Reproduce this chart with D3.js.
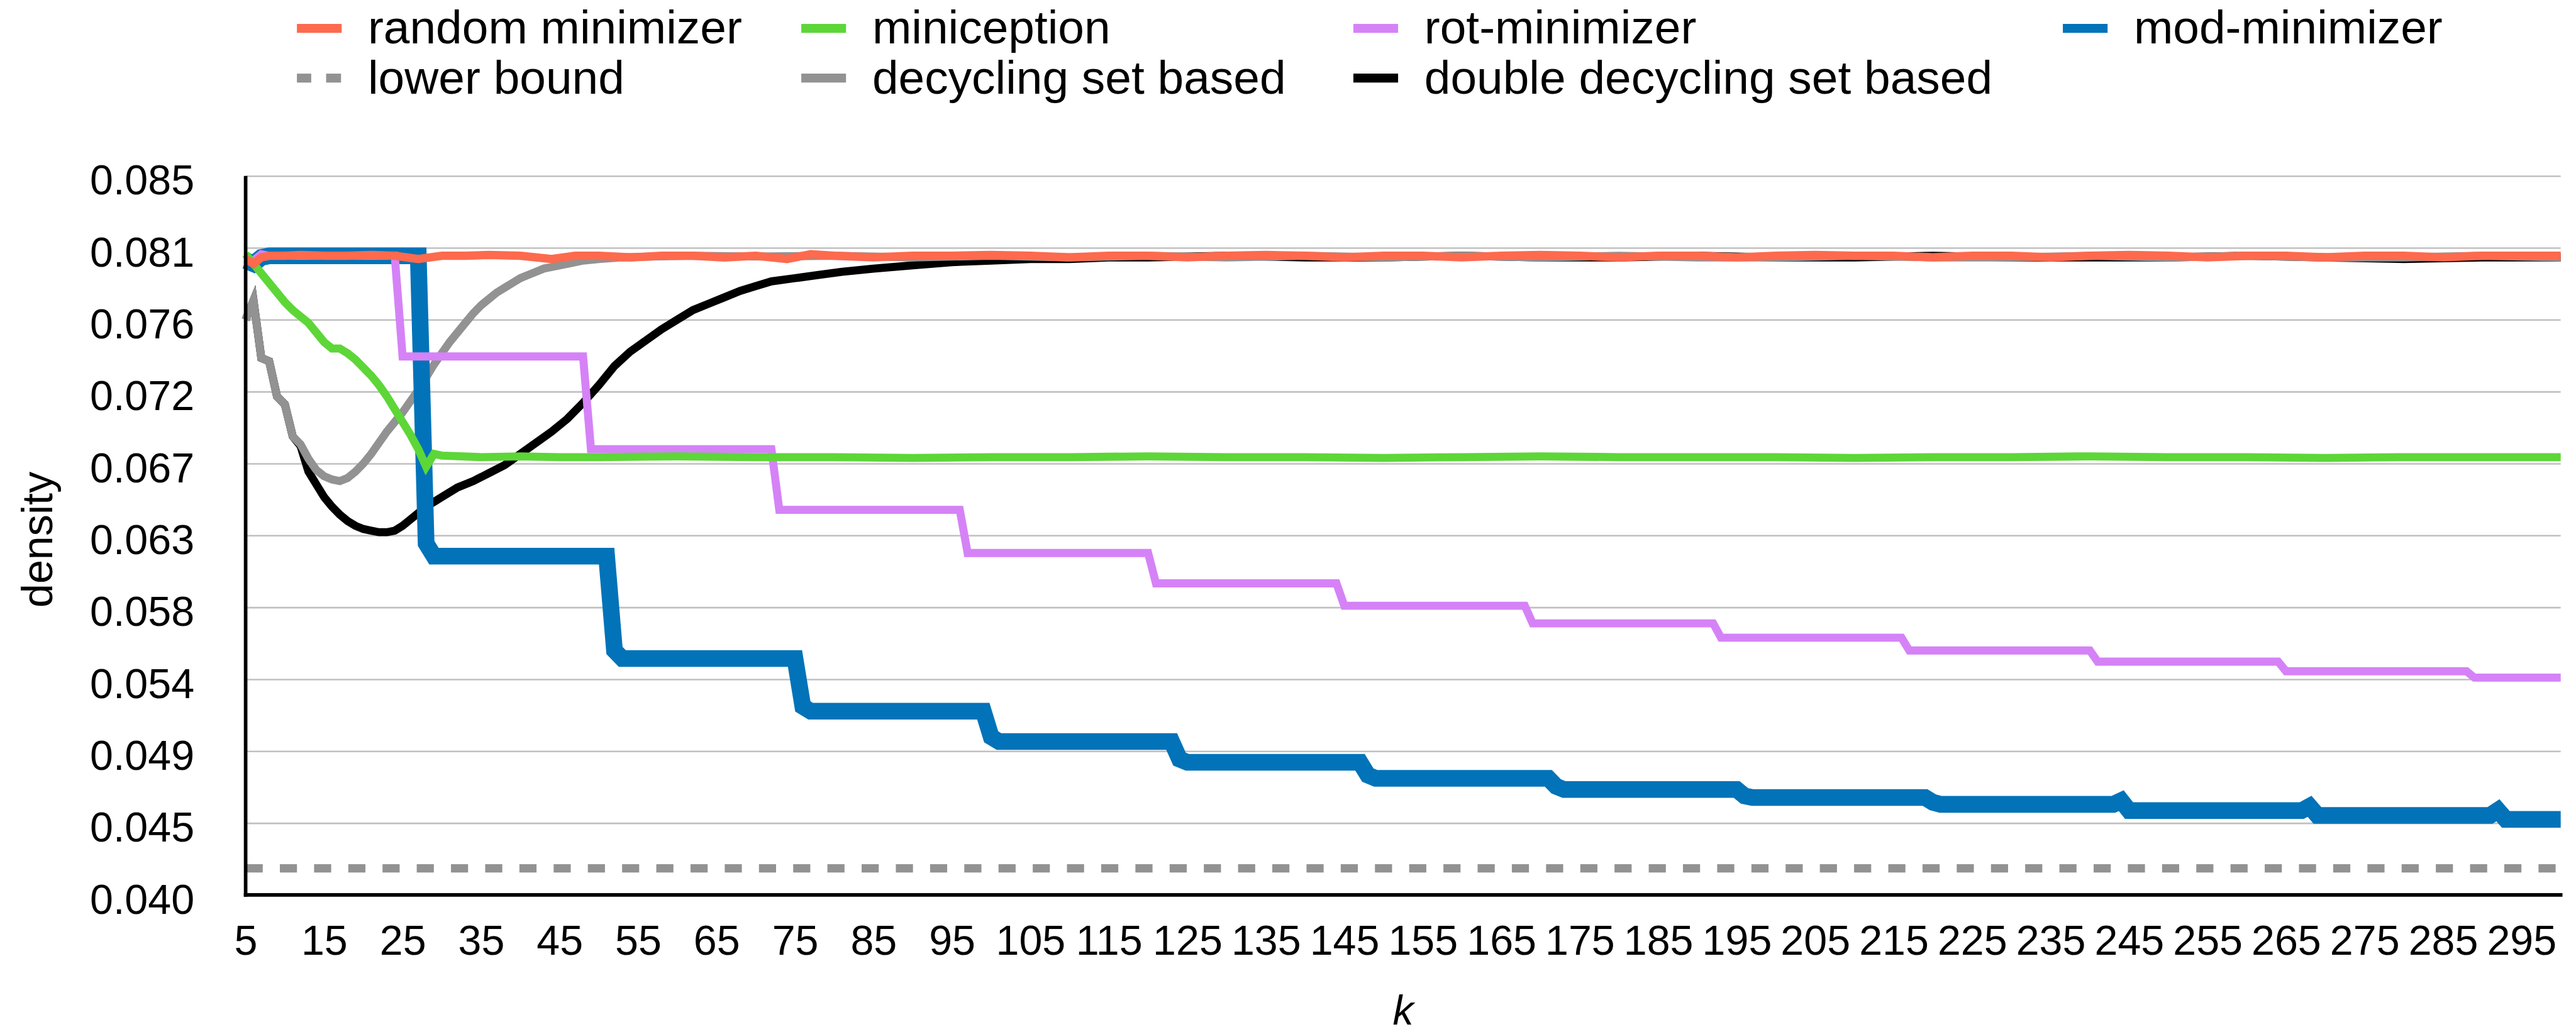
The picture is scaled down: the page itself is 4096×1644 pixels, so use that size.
<!DOCTYPE html>
<html>
<head>
<meta charset="utf-8">
<script src="https://cdn.jsdelivr.net/npm/d3@7"></script>
<style>
html, body { margin: 0; padding: 0; background: #ffffff; }
svg { display: block; }
</style>
</head>
<body>
<svg id="chart" width="4096" height="1644"></svg>
<script>
// ---------------- DATA ----------------
const seriesNames = ["random minimizer", "miniception", "rot-minimizer", "mod-minimizer",
                     "lower bound", "decycling set based", "double decycling set based"];

const xTickValues = [5,15,25,35,45,55,65,75,85,95,105,115,125,135,145,155,165,175,185,195,205,215,225,235,245,255,265,275,285,295];
const yTickValues = [0.040,0.0445,0.049,0.0535,0.058,0.0625,0.067,0.0715,0.076,0.0805,0.085];
const yTickLabels = ["0.040","0.045","0.049","0.054","0.058","0.063","0.067","0.072","0.076","0.081","0.085"];

// [k, density]
const randomMinimizer = [[5,0.0798],[6,0.0795],[7,0.0799],[8,0.0800],[10,0.0800],[12,0.08005],[15,0.0800],[18,0.0800],[21,0.08005],[24,0.0800],[27,0.0798],[30,0.0800],[33,0.0800],[36,0.08005],[40,0.0800],[44,0.0798],[47,0.0800],[50,0.0800],[54,0.0799],[58,0.0800],[62,0.0800],[66,0.0799],[70,0.0800],[74,0.0798],[77,0.0801],[80,0.0800],[85,0.0799],[90,0.0800],[95,0.0800],[100,0.08005],[105,0.0800],[110,0.0799],[115,0.0800],[120,0.0800],[125,0.0799],[130,0.0800],[135,0.08005],[140,0.0800],[145,0.0799],[150,0.0800],[155,0.0800],[160,0.0799],[165,0.0800],[170,0.08005],[175,0.0800],[180,0.0799],[185,0.0800],[190,0.0800],[195,0.0799],[200,0.0800],[205,0.08005],[210,0.0800],[215,0.0800],[220,0.0799],[225,0.0800],[230,0.0800],[235,0.0799],[240,0.0800],[245,0.08005],[250,0.0800],[255,0.0799],[260,0.0800],[265,0.0800],[270,0.0799],[275,0.0800],[280,0.0800],[285,0.0799],[290,0.0800],[295,0.0800],[300,0.0800]];

const miniception = [[5,0.0801],[6,0.0795],[7,0.0789],[8,0.0783],[9,0.0777],[10,0.0771],[11,0.0766],[12,0.0762],[13,0.0758],[14,0.0752],[15,0.0746],[16,0.0742],[17,0.0742],[18,0.0739],[19,0.0735],[20,0.0730],[21,0.0725],[22,0.0719],[23,0.0712],[24,0.0704],[25,0.0696],[26,0.0688],[27,0.0679],[28,0.0668],[29,0.0676],[30,0.0675],[35,0.0674],[40,0.06745],[45,0.0674],[50,0.0674],[60,0.06745],[70,0.0674],[80,0.0674],[90,0.06735],[100,0.0674],[110,0.0674],[120,0.06745],[130,0.0674],[140,0.0674],[150,0.06735],[160,0.0674],[170,0.06745],[180,0.0674],[190,0.0674],[200,0.0674],[210,0.06735],[220,0.0674],[230,0.0674],[240,0.06745],[250,0.0674],[260,0.0674],[270,0.06735],[280,0.0674],[290,0.0674],[300,0.0674]];

const rotMinimizer = [[5,0.0797],[6,0.0797],[7,0.0801],[8,0.0800],[24,0.0800],[25,0.0737],[48,0.0737],[49,0.0679],[72,0.0679],[73,0.0641],[96,0.0641],[97,0.0614],[120,0.0614],[121,0.0595],[144,0.0595],[145,0.0581],[168,0.0581],[169,0.0570],[192,0.0570],[193,0.0561],[216,0.0561],[217,0.0553],[240,0.0553],[241,0.0546],[264,0.0546],[265,0.0540],[288,0.0540],[289,0.0536],[300,0.0536]];

const modMinimizer = [[5,0.0797],[6,0.0795],[7,0.0799],[8,0.0800],[27,0.0800],[28,0.0620],[29,0.0612],[51,0.0612],[52,0.0553],[53,0.0548],[75,0.0548],[76,0.0518],[77,0.0515],[99,0.0515],[100,0.0499],[101,0.0496],[123,0.0496],[124,0.0485],[125,0.0483],[147,0.0483],[148,0.0475],[149,0.0473],[171,0.0473],[172,0.0468],[173,0.0466],[195,0.0466],[196,0.0462],[197,0.0461],[219,0.0461],[220,0.0458],[221,0.04567],[243,0.04567],[244,0.0459],[245,0.04528],[267,0.04528],[268,0.04555],[269,0.04498],[291,0.04498],[292,0.0453],[293,0.04473],[300,0.04473]];

const lowerBound = [[5,0.04167],[300,0.04167]];

const decycling = [[5,0.0760],[6,0.0772],[7,0.0736],[8,0.0734],[9,0.0712],[10,0.0707],[11,0.0687],[12,0.0682],[13,0.0673],[14,0.0666],[15,0.0662],[16,0.0660],[17,0.0659],[18,0.0661],[19,0.0665],[20,0.0670],[21,0.0676],[22,0.0683],[23,0.0690],[24,0.0696],[25,0.0702],[26,0.0709],[27,0.0716],[28,0.0724],[29,0.0732],[30,0.0739],[31,0.0746],[32,0.0752],[33,0.0758],[34,0.0764],[35,0.0769],[36,0.0773],[37,0.0777],[38,0.0780],[39,0.0783],[40,0.0786],[41,0.0788],[42,0.0790],[43,0.0792],[44,0.0793],[46,0.0795],[48,0.0797],[50,0.0798],[53,0.0799],[57,0.07995],[62,0.0800],[70,0.07995],[80,0.0800],[90,0.0799],[100,0.0800],[110,0.0799],[120,0.0800],[130,0.0799],[140,0.0800],[150,0.0799],[160,0.0800],[170,0.0799],[180,0.0800],[190,0.0799],[200,0.0799],[210,0.0800],[220,0.0799],[230,0.0799],[240,0.0800],[250,0.0799],[260,0.0800],[270,0.0799],[280,0.0799],[290,0.0800],[300,0.0799]];

const doubleDecycling = [[5,0.0760],[6,0.0772],[7,0.0736],[8,0.0734],[9,0.0712],[10,0.0707],[11,0.0687],[12,0.0681],[13,0.0665],[14,0.0657],[15,0.0649],[16,0.0643],[17,0.0638],[18,0.0634],[19,0.0631],[20,0.0629],[21,0.0628],[22,0.0627],[23,0.0627],[24,0.0628],[25,0.0631],[26,0.0635],[27,0.0639],[28,0.0643],[29,0.0646],[30,0.0649],[32,0.0655],[34,0.0659],[36,0.0664],[38,0.0669],[40,0.0676],[42,0.0683],[44,0.0690],[46,0.0698],[48,0.0708],[50,0.0719],[52,0.0731],[54,0.0740],[56,0.0747],[58,0.0754],[60,0.0760],[62,0.0766],[64,0.0770],[66,0.0774],[68,0.0778],[70,0.0781],[72,0.0784],[75,0.0786],[78,0.0788],[81,0.0790],[85,0.0792],[90,0.0794],[95,0.0796],[100,0.0797],[105,0.0798],[110,0.0798],[115,0.0799],[120,0.0799],[130,0.0800],[140,0.0799],[150,0.0799],[160,0.0800],[170,0.0799],[180,0.0799],[190,0.0800],[200,0.0799],[210,0.0799],[220,0.0800],[230,0.0799],[240,0.0799],[250,0.0799],[260,0.0800],[270,0.0799],[280,0.0798],[290,0.0799],[300,0.0799]];

// ---------------- LAYOUT ----------------
const S = 0.948;
const FONT = "'Liberation Sans', Arial, Helvetica, sans-serif";
const svg = d3.select("#chart");

const plotL = 412 * S, plotR = 4295 * S, plotT = 295 * S, plotB = 1501 * S;
const x = d3.scaleLinear().domain([5, 300]).range([plotL, plotR]);
const y = d3.scaleLinear().domain([0.040, 0.085]).range([plotB, plotT]);

// gridlines
const grid = svg.append("g").attr("transform", `translate(${plotL},0)`)
  .call(d3.axisLeft(y).tickValues(yTickValues.slice(1)).tickSize(-(plotR - plotL)).tickFormat(""));
grid.select(".domain").remove();
grid.selectAll("line").attr("stroke", "#c0c0c0").attr("stroke-width", 2.7 * S);

// y tick labels
const yAx = svg.append("g").attr("transform", `translate(${plotL},0)`)
  .call(d3.axisLeft(y).tickValues(yTickValues).tickSize(0).tickPadding(86 * S)
        .tickFormat((d, i) => yTickLabels[i]));
yAx.select(".domain").remove();
yAx.selectAll("text").attr("dy", "0.44em").attr("font-family", FONT)
  .attr("font-size", 70 * S).attr("fill", "#000");

// x tick labels
const xAx = svg.append("g").attr("transform", `translate(0,${plotB})`)
  .call(d3.axisBottom(x).tickValues(xTickValues).tickSize(0).tickFormat(d => String(d)));
xAx.select(".domain").remove();
xAx.selectAll("text").attr("y", 100 * S).attr("dy", 0).attr("font-family", FONT)
  .attr("font-size", 70 * S).attr("fill", "#000");

// series lines
const line = d3.line().x(d => x(d[0])).y(d => y(d[1]));
const drawOrder = [
  { data: doubleDecycling, color: "#000000", width: 13.5 },
  { data: decycling,       color: "#929292", width: 13.5 },
  { data: lowerBound,      color: "#929292", width: 14, dash: `${28.7 * S} ${28.7 * S}` },
  { data: modMinimizer,    color: "#0273B9", width: 28 },
  { data: rotMinimizer,    color: "#D582F7", width: 13.5 },
  { data: miniception,     color: "#5DD638", width: 13.5 },
  { data: randomMinimizer, color: "#FD6A4E", width: 14 }
];
const linesG = svg.append("g");
drawOrder.forEach(s => {
  const p = linesG.append("path").datum(s.data)
    .attr("d", line).attr("fill", "none")
    .attr("stroke", s.color).attr("stroke-width", s.width * S)
    .attr("stroke-linejoin", "miter").attr("stroke-miterlimit", 4)
    .attr("stroke-linecap", "butt");
  if (s.dash) p.attr("stroke-dasharray", s.dash);
});

// axes lines
svg.append("line").attr("x1", plotL).attr("x2", plotL).attr("y1", plotT).attr("y2", plotB + 3 * S)
  .attr("stroke", "#000").attr("stroke-width", 6 * S);
svg.append("line").attr("x1", plotL - 3 * S).attr("x2", 4298 * S).attr("y1", plotB).attr("y2", plotB)
  .attr("stroke", "#000").attr("stroke-width", 6 * S);

// axis titles
svg.append("text").attr("transform", `translate(${88 * S},${905 * S}) rotate(-90)`)
  .attr("text-anchor", "middle").attr("font-family", FONT).attr("font-size", 72 * S)
  .text("density");
svg.append("text").attr("x", (plotL + plotR) / 2).attr("y", 1629)
  .attr("text-anchor", "middle").attr("font-family", FONT).attr("font-size", 70 * S)
  .attr("font-style", "italic").text("k");

// legend
const legendItems = [
  { name: seriesNames[0], color: "#FD6A4E", sx: 498,  row: 0 },
  { name: seriesNames[1], color: "#5DD638", sx: 1344, row: 0 },
  { name: seriesNames[2], color: "#D582F7", sx: 2270, row: 0 },
  { name: seriesNames[3], color: "#0273B9", sx: 3460, row: 0 },
  { name: seriesNames[4], color: "#929292", sx: 498,  row: 1, dash: true },
  { name: seriesNames[5], color: "#929292", sx: 1344, row: 1 },
  { name: seriesNames[6], color: "#000000", sx: 2270, row: 1 }
];
const lg = svg.append("g");
legendItems.forEach(it => {
  const cy = (it.row === 0 ? 47.5 : 131) * S;
  const base = (it.row === 0 ? 73 : 157) * S;
  if (it.dash) {
    lg.append("line").attr("x1", it.sx * S).attr("x2", (it.sx + 24) * S).attr("y1", cy).attr("y2", cy)
      .attr("stroke", it.color).attr("stroke-width", 15 * S);
    lg.append("line").attr("x1", (it.sx + 49) * S).attr("x2", (it.sx + 74) * S).attr("y1", cy).attr("y2", cy)
      .attr("stroke", it.color).attr("stroke-width", 15 * S);
  } else {
    lg.append("line").attr("x1", it.sx * S).attr("x2", (it.sx + 75) * S).attr("y1", cy).attr("y2", cy)
      .attr("stroke", it.color).attr("stroke-width", 15 * S);
  }
  lg.append("text").attr("x", (it.sx + 119) * S).attr("y", base)
    .attr("font-family", FONT).attr("font-size", 79 * S).attr("fill", "#000").text(it.name);
});
</script>
</body>
</html>
